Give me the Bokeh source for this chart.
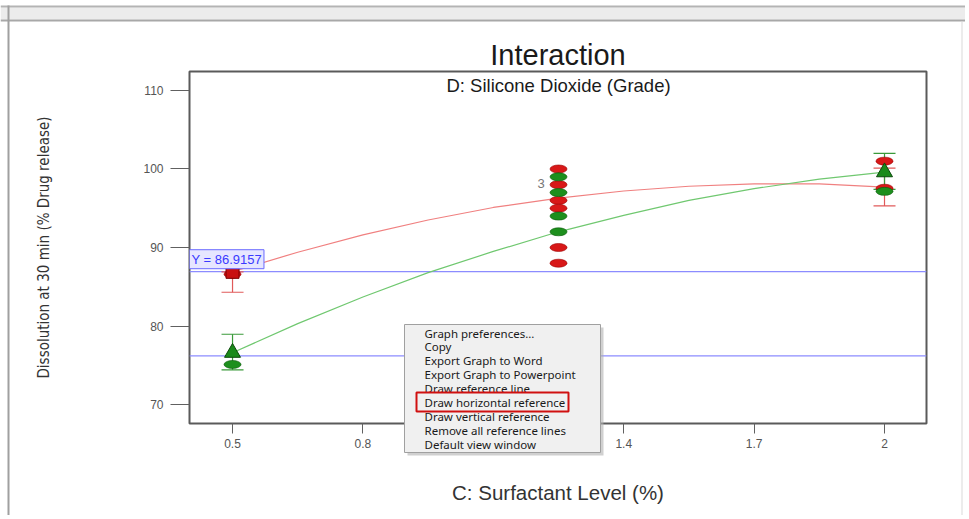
from bokeh.plotting import figure
from bokeh.models import (Label, Span, Whisker, TeeHead,
                          ColumnDataSource, FixedTicker, Range1d)
from bokeh.core.properties import value
from bokeh.embed import file_html
from bokeh.resources import INLINE

# ---------------- data ----------------
x_ticks = [0.5, 0.8, 1.1, 1.4, 1.7, 2.0]
x_tick_labels = ["0.5", "0.8", "1.1", "1.4", "1.7", "2"]
y_ticks = [70, 80, 90, 100, 110]

# fitted interaction curves
curve_x = [0.5, 0.65, 0.8, 0.95, 1.1, 1.25, 1.4, 1.55, 1.7, 1.85, 2.0]
red_curve = [86.92, 89.4, 91.6, 93.5, 95.1, 96.3, 97.2, 97.8, 98.1, 98.1, 97.7]
green_curve = [76.6, 80.3, 83.7, 86.8, 89.5, 92.0, 94.1, 96.0, 97.5, 98.7, 99.6]

# design points
red_pts_x = [0.5, 1.25, 1.25, 1.25, 1.25, 1.25, 1.25, 2.0, 2.0]
red_pts_y = [86.6, 100.0, 98.0, 96.0, 95.0, 90.0, 88.0, 101.0, 97.55]
green_pts_x = [0.5, 1.25, 1.25, 1.25, 1.25, 2.0]
green_pts_y = [75.1, 99.0, 97.0, 94.0, 92.0, 97.15]

# predicted-value markers
red_pred_x = [0.5]
red_pred_y = [86.9]
green_pred_x = [0.5, 2.0]
green_pred_y = [76.6, 99.6]

# LSD bars
red_lsd_x = [0.5, 2.0]
red_lsd_low = [84.3, 95.3]
red_lsd_high = [86.9, 100.1]
green_lsd_x = [0.5, 2.0]
green_lsd_low = [74.4, 97.4]
green_lsd_high = [78.95, 102.0]

# reference lines
ref_lines = [86.9157, 76.2]
ref_label = "Y = 86.9157"
overlap_count = "3"

menu_items = ["Graph preferences...", "Copy", "Export Graph to Word",
              "Export Graph to Powerpoint", "Draw reference line",
              "Draw horizontal reference", "Draw vertical reference",
              "Remove all reference lines", "Default view window"]

# ---------------- main chart ----------------
ARIAL = "Liberation Sans"
RED = "#d81818"
GREEN = "#1d8f1d"
RED_LINE = "#f08080"
GREEN_LINE = "#70c870"
BLUE = "#8c8cff"

W, H = 965, 515
p = figure(width=W, height=H, output_backend="svg", toolbar_location=None,
           x_range=Range1d(0.401, 2.0966), y_range=Range1d(67.58, 112.42),
           min_border_left=189, min_border_right=W - 926, min_border_top=71,
           min_border_bottom=H - 423, title="Interaction")
p.background_fill_color = "white"
p.border_fill_color = "white"
p.outline_line_color = "#5a5a5a"
p.outline_line_width = 2
p.xgrid.visible = False
p.ygrid.visible = False

p.title.align = "center"
p.title.text_font = ARIAL
p.title.text_font_size = "29px"
p.title.text_font_style = "normal"
p.title.text_color = "#1a1a1a"
p.title.standoff = 2

for ax in (p.xaxis[0], p.yaxis[0]):
    ax.axis_line_color = None
    ax.major_tick_in = 0
    ax.minor_tick_in = 0
    ax.minor_tick_out = 0
    ax.major_tick_line_color = "#606060"
    ax.major_tick_line_width = 1
    ax.major_label_text_font = ARIAL
    ax.major_label_text_color = "#555555"

p.yaxis.ticker = FixedTicker(ticks=y_ticks)
p.yaxis.major_tick_out = 19
p.yaxis.major_label_standoff = 7
p.yaxis.major_label_text_font_size = "12px"
p.yaxis.axis_label = "Dissolution at 30 min (% Drug release)"
p.yaxis.axis_label_text_font = "'Liberation Sans Narrow', 'DejaVu Sans Condensed', sans-serif"
p.yaxis.axis_label_text_font_size = "15px"
p.yaxis.axis_label_text_font_style = "normal"
p.yaxis.axis_label_text_color = "#333333"
p.yaxis.axis_label_standoff = 87

p.xaxis.ticker = FixedTicker(ticks=x_ticks)
p.xaxis.major_label_overrides = {t: l for t, l in zip(x_ticks, x_tick_labels)}
p.xaxis.major_tick_out = 10
p.xaxis.major_label_standoff = 5
p.xaxis.major_label_text_font_size = "12px"
p.xaxis.axis_label = "C: Surfactant Level (%)"
p.xaxis.axis_label_text_font = ARIAL
p.xaxis.axis_label_text_font_size = "20.5px"
p.xaxis.axis_label_text_font_style = "normal"
p.xaxis.axis_label_text_color = "#333333"
p.xaxis.axis_label_standoff = 30

# reference lines
for yv in ref_lines:
    p.add_layout(Span(location=yv, dimension="width", line_color=BLUE,
                      line_width=1.3, level="underlay"))

# curves
p.line(curve_x, red_curve, line_color=RED_LINE, line_width=1.2)
p.line(curve_x, green_curve, line_color=GREEN_LINE, line_width=1.2)

# LSD bars
for xs, lo, hi, col in ((red_lsd_x, red_lsd_low, red_lsd_high, "#e05a5a"),
                        (green_lsd_x, green_lsd_low, green_lsd_high, "#3a9a3a")):
    src = ColumnDataSource(dict(base=xs, lower=lo, upper=hi))
    p.add_layout(Whisker(source=src, base="base", lower="lower", upper="upper",
                         line_color=col, line_width=1.2, level="underlay",
                         upper_head=TeeHead(size=22, line_color=col, line_width=1.2),
                         lower_head=TeeHead(size=22, line_color=col, line_width=1.2)))

# design points
p.ellipse(red_pts_x, red_pts_y, width=17, height=8, width_units="screen",
          height_units="screen", fill_color=RED, line_color="#9a0000", line_width=0.6)
p.ellipse(green_pts_x, green_pts_y, width=17, height=8, width_units="screen",
          height_units="screen", fill_color=GREEN, line_color="#0a5a0a", line_width=0.6)

# predicted markers
p.scatter(red_pred_x, red_pred_y, marker="square", size=13, fill_color="#c81010",
          line_color="#7a0000", line_width=1)
p.scatter(green_pred_x, green_pred_y, marker="triangle", size=16, fill_color="#1a8a1a",
          line_color="#0a4a0a", line_width=1)

# texts inside the plot
p.add_layout(Label(x=1.25, y=110.6, text="D: Silicone Dioxide (Grade)",
                   text_font=ARIAL, text_font_size="18.5px", text_color="#1a1a1a",
                   text_align="center", text_baseline="middle"))
p.add_layout(Label(x=1.21, y=98.2, text=overlap_count, text_font=ARIAL,
                   text_font_size="13px", text_color="#777777",
                   text_align="center", text_baseline="middle"))
p.add_layout(Label(x=0.401, y=ref_lines[0], y_offset=3, text=ref_label,
                   text_font=ARIAL, text_font_size="13px", text_color="#3a3aff",
                   text_align="left", text_baseline="bottom",
                   background_fill_color="#e6e6ff", border_line_color="#6a6aff",
                   padding=2))

# ---------------- overlay: window chrome + context menu (screen pixels) ----------------
ov = figure(width=W, height=H, output_backend="svg", toolbar_location=None,
            x_range=Range1d(0, W), y_range=Range1d(H, 0),
            x_axis_type=None, y_axis_type=None,
            min_border_left=0, min_border_right=0, min_border_top=0, min_border_bottom=0)
ov.background_fill_alpha = 0
ov.border_fill_alpha = 0
ov.outline_line_color = None
ov.xgrid.visible = False
ov.ygrid.visible = False
ov.styles = {"margin-top": f"-{H}px"}

def q(l, r, t, b, fill=None, line=None, lw=1, alpha=1.0):
    ov.quad(left=[l], right=[r], top=[t], bottom=[b],
            fill_color=fill, fill_alpha=alpha if fill else 0,
            line_color=line, line_width=lw)

# window chrome
q(0, W, 7, 19, fill="#ececec")
q(0, W, 5, 7, fill="#b4b4b4")
q(0, W, 19, 21, fill="#a8a8a8")
q(7, 9, 5, H, fill="#a0a0a0")
q(961, 962, 21, H, fill="#dadada")

# context menu
q(407, 603, 327, 455, fill="#b0b0b0", alpha=0.6)
q(404, 600, 324, 452, fill="#f0f0f0", line="#a0a0a0", lw=1)
ov.text(x=[424] * len(menu_items), y=[332.5 + i * 13.9 for i in range(len(menu_items))],
        text=menu_items, text_font=value("Noto Sans"), text_font_size="11.5px",
        text_color="#1a1a1a", text_align="left", text_baseline="middle")
q(416, 568, 392, 411, line="#d01010", lw=2)

open("out.html", "w").write(file_html([p, ov], INLINE))
